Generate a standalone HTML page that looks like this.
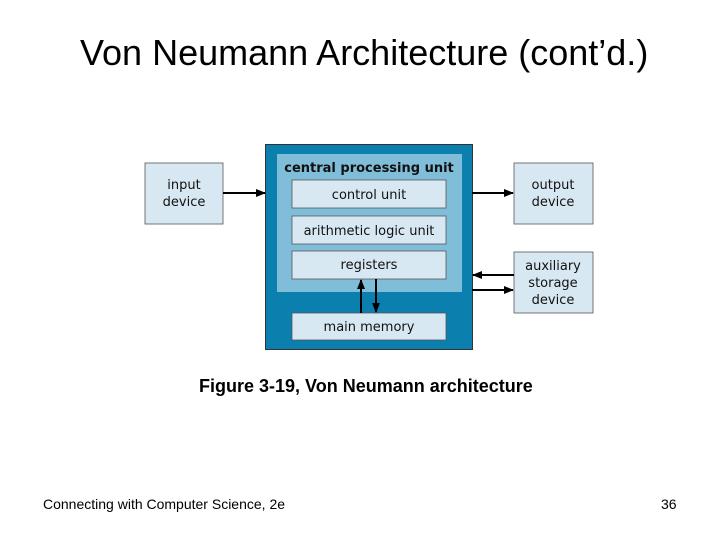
<!DOCTYPE html>
<html><head><style>
body{margin:0;width:720px;height:540px;background:#fff;font-family:"Liberation Sans",sans-serif;position:relative;overflow:hidden}
.t{position:absolute;white-space:nowrap}
</style></head><body>
<div class="t" style="left:80px;top:32px;font-size:36px;color:#000">Von Neumann Architecture (cont’d.)</div>
<svg width="720" height="540" style="position:absolute;left:0;top:0" font-family="DejaVu Sans, Liberation Sans, sans-serif">
<defs><marker id="a" markerWidth="10" markerHeight="10" refX="9" refY="5" orient="auto" markerUnits="userSpaceOnUse"><path d="M0,1 L10,5 L0,9 z" fill="#000"/></marker></defs>
<rect x="265.5" y="144.5" width="207" height="205" fill="#0b7fae" stroke="#333"/>
<rect x="277" y="154" width="185" height="138" fill="#80bdd8"/>
<text x="369" y="172" text-anchor="middle" font-size="13" font-weight="bold" fill="#111">central processing unit</text>
<g fill="#d8e8f2" stroke="#555" stroke-width="0.8">
<rect x="292" y="180" width="154" height="28"/>
<rect x="292" y="216" width="154" height="28"/>
<rect x="292" y="251" width="154" height="28"/>
<rect x="292" y="313" width="154" height="27"/>
<rect x="145" y="163" width="78" height="61"/>
<rect x="514" y="163" width="79" height="61"/>
<rect x="514" y="252" width="79" height="61"/>
</g>
<g font-size="13" fill="#111" text-anchor="middle">
<text x="369" y="199">control unit</text>
<text x="369" y="235">arithmetic logic unit</text>
<text x="369" y="269">registers</text>
<text x="369" y="331">main memory</text>
<text x="184" y="189">input</text><text x="184" y="206">device</text>
<text x="553" y="189">output</text><text x="553" y="206">device</text>
<text x="553" y="270">auxiliary</text><text x="553" y="287">storage</text><text x="553" y="304">device</text>
</g>
<g stroke="#000" stroke-width="2" marker-end="url(#a)">
<line x1="223" y1="193" x2="265" y2="193"/>
<line x1="472" y1="193" x2="513" y2="193"/>
<line x1="514" y1="275" x2="473" y2="275"/>
<line x1="472" y1="290" x2="513" y2="290"/>
<line x1="361" y1="313" x2="361" y2="280"/>
<line x1="376" y1="279" x2="376" y2="312"/>
</g>
</svg>
<div class="t" style="left:199px;top:376px;font-size:18px;font-weight:bold">Figure 3-19, Von Neumann architecture</div>
<div class="t" style="left:43px;top:496px;font-size:14px">Connecting with Computer Science, 2e</div>
<div class="t" style="left:661px;top:496px;font-size:14px">36</div>
</body></html>
